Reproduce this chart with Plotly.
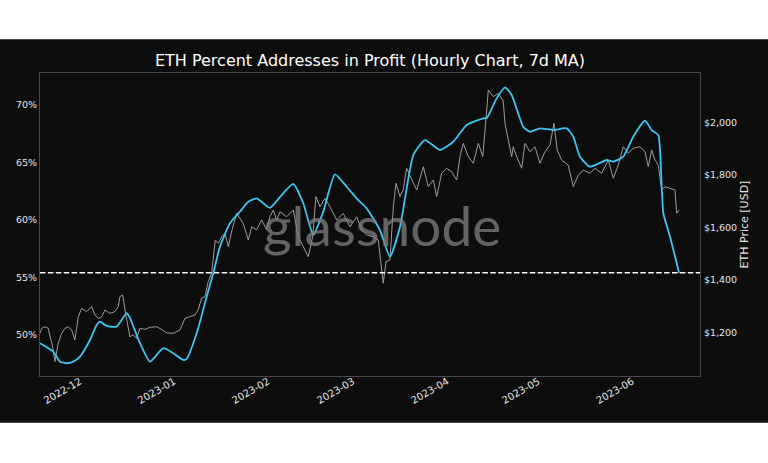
import plotly.graph_objects as go

# ---- data ----
ma_time = [
    "2022-11-17 20:00", "2022-11-22 05:00", "2022-11-24 10:00", "2022-11-26 15:00", "2022-11-28 19:00",
    "2022-12-01 00:00", "2022-12-04 07:00", "2022-12-06 12:00", "2022-12-07 14:00", "2022-12-09 19:00",
    "2022-12-13 02:00", "2022-12-16 09:00", "2022-12-17 11:00", "2022-12-20 18:00", "2022-12-24 01:00",
    "2022-12-28 11:00", "2022-12-31 18:00", "2023-01-04 01:00", "2023-01-05 04:00", "2023-01-08 11:00",
    "2023-01-11 18:00", "2023-01-13 22:00", "2023-01-16 03:00", "2023-01-19 10:00", "2023-01-22 17:00",
    "2023-01-25 11:00", "2023-01-28 05:00", "2023-01-30 10:00", "2023-02-01 14:00", "2023-02-05 23:00",
    "2023-02-09 07:00", "2023-02-12 14:00", "2023-02-15 21:00", "2023-02-19 04:00", "2023-02-23 00:00",
    "2023-02-26 21:00", "2023-03-02 04:00", "2023-03-05 11:00", "2023-03-09 20:00", "2023-03-13 03:00",
    "2023-03-16 11:00", "2023-03-20 20:00", "2023-03-24 16:00", "2023-03-29 15:00", "2023-04-03 00:00",
    "2023-04-07 10:00", "2023-04-12 21:00", "2023-04-14 00:00", "2023-04-17 07:00", "2023-04-20 01:00",
    "2023-04-22 06:00", "2023-04-26 01:00", "2023-04-28 06:00", "2023-05-01 14:00", "2023-05-05 23:00",
    "2023-05-10 09:00", "2023-05-12 13:00", "2023-05-14 18:00", "2023-05-18 01:00", "2023-05-23 13:00",
    "2023-05-25 17:00", "2023-05-29 00:00", "2023-06-01 07:00", "2023-06-05 04:00", "2023-06-07 09:00",
    "2023-06-09 13:00", "2023-06-10 16:00", "2023-06-11 05:00", "2023-06-13 10:00", "2023-06-16 09:00",
]
ma_pct = [
    49.24, 48.51, 47.64, 47.50, 47.64,
    48.08, 49.53, 50.84, 51.12, 50.75,
    50.69, 51.86, 51.45, 49.27, 47.64,
    48.81, 48.37, 47.79, 47.88, 50.11,
    53.30, 55.34, 57.66, 59.70, 60.71,
    61.58, 61.87, 61.44, 61.03, 62.31,
    63.12, 61.44, 58.68, 60.71, 63.96,
    62.88, 61.87, 61.00, 59.11, 56.79,
    59.40, 65.64, 66.95, 66.08, 66.80,
    68.26, 68.84, 68.84, 70.58, 71.54,
    70.87, 68.11, 67.67, 67.97, 67.82,
    67.97, 67.24, 65.50, 64.63, 65.21,
    65.07, 65.50, 67.24, 68.63, 67.82,
    67.39, 62.88, 60.57, 58.53, 55.39,
]

price_time = [
    "2022-11-17 20:00", "2022-11-18 09:00", "2022-11-19 11:00", "2022-11-20 13:00", "2022-11-21 08:00",
    "2022-11-22 00:00", "2022-11-22 18:00", "2022-11-23 20:00", "2022-11-24 23:00", "2022-11-26 01:00",
    "2022-11-27 04:00", "2022-11-28 06:00", "2022-11-29 08:00", "2022-11-30 11:00", "2022-12-01 13:00",
    "2022-12-03 05:00", "2022-12-04 20:00", "2022-12-05 23:00", "2022-12-07 01:00", "2022-12-08 04:00",
    "2022-12-09 06:00", "2022-12-10 21:00", "2022-12-12 13:00", "2022-12-13 15:00", "2022-12-14 04:00",
    "2022-12-15 02:00", "2022-12-15 20:00", "2022-12-16 22:00", "2022-12-17 11:00", "2022-12-18 13:00",
    "2022-12-19 16:00", "2022-12-20 18:00", "2022-12-22 10:00", "2022-12-24 01:00", "2022-12-26 06:00",
    "2022-12-27 22:00", "2022-12-29 14:00", "2022-12-31 18:00", "2023-01-02 23:00", "2023-01-04 14:00",
    "2023-01-06 06:00", "2023-01-07 21:00", "2023-01-08 23:00", "2023-01-10 02:00", "2023-01-11 05:00",
    "2023-01-12 06:00", "2023-01-13 09:00", "2023-01-14 04:00", "2023-01-14 14:00", "2023-01-15 14:00",
    "2023-01-16 17:00", "2023-01-17 19:00", "2023-01-18 21:00", "2023-01-19 23:00", "2023-01-21 15:00",
    "2023-01-22 17:00", "2023-01-23 19:00", "2023-01-25 11:00", "2023-01-26 14:00", "2023-01-28 05:00",
    "2023-01-29 21:00", "2023-01-31 12:00", "2023-02-01 14:00", "2023-02-02 17:00", "2023-02-03 19:00",
    "2023-02-04 22:00", "2023-02-07 02:00", "2023-02-09 07:00", "2023-02-10 22:00", "2023-02-12 14:00",
    "2023-02-14 05:00", "2023-02-15 16:00", "2023-02-16 18:00", "2023-02-18 02:00", "2023-02-19 17:00",
    "2023-02-21 09:00", "2023-02-23 14:00", "2023-02-25 18:00", "2023-02-27 23:00", "2023-03-02 04:00",
    "2023-03-03 20:00", "2023-03-05 11:00", "2023-03-07 15:00", "2023-03-09 07:00", "2023-03-10 10:00",
    "2023-03-10 22:00", "2023-03-11 20:00", "2023-03-13 03:00", "2023-03-14 06:00", "2023-03-15 03:00",
    "2023-03-16 11:00", "2023-03-17 12:00", "2023-03-18 15:00", "2023-03-20 07:00", "2023-03-21 23:00",
    "2023-03-24 03:00", "2023-03-25 18:00", "2023-03-27 10:00", "2023-03-28 13:00", "2023-03-30 04:00",
    "2023-03-31 20:00", "2023-04-02 11:00", "2023-04-04 03:00", "2023-04-05 05:00", "2023-04-06 07:00",
    "2023-04-07 23:00", "2023-04-09 14:00", "2023-04-11 06:00", "2023-04-12 17:00", "2023-04-13 18:00",
    "2023-04-14 13:00", "2023-04-16 04:00", "2023-04-17 20:00", "2023-04-19 11:00", "2023-04-20 01:00",
    "2023-04-21 03:00", "2023-04-22 06:00", "2023-04-22 18:00", "2023-04-23 21:00", "2023-04-25 13:00",
    "2023-04-26 15:00", "2023-04-28 06:00", "2023-04-29 22:00", "2023-05-01 14:00", "2023-05-03 05:00",
    "2023-05-04 21:00", "2023-05-06 04:00", "2023-05-07 06:00", "2023-05-08 17:00", "2023-05-10 21:00",
    "2023-05-12 13:00", "2023-05-14 05:00", "2023-05-15 20:00", "2023-05-18 01:00", "2023-05-19 17:00",
    "2023-05-21 21:00", "2023-05-24 02:00", "2023-05-25 17:00", "2023-05-27 09:00", "2023-05-29 00:00",
    "2023-05-30 16:00", "2023-06-01 07:00", "2023-06-03 12:00", "2023-06-05 04:00", "2023-06-06 06:00",
    "2023-06-07 09:00", "2023-06-08 11:00", "2023-06-09 13:00", "2023-06-10 16:00", "2023-06-11 18:00",
    "2023-06-13 10:00", "2023-06-15 01:00", "2023-06-15 15:00", "2023-06-16 09:00",
]
price_usd = [
    1196, 1215, 1221, 1215, 1177,
    1145, 1088, 1158, 1196, 1215,
    1221, 1209, 1171, 1259, 1291,
    1279, 1298, 1266, 1253, 1259,
    1285, 1272, 1279, 1298, 1336,
    1342, 1285, 1221, 1183, 1190,
    1177, 1215, 1211, 1219, 1221,
    1211, 1198, 1196, 1209, 1253,
    1259, 1266, 1285, 1330, 1336,
    1393, 1425, 1501, 1552, 1539,
    1564, 1577, 1526, 1583, 1653,
    1634, 1615, 1552, 1602, 1590,
    1628, 1590, 1640, 1666, 1628,
    1659, 1640, 1666, 1564, 1526,
    1488, 1564, 1717, 1678, 1710,
    1678, 1628, 1653, 1602, 1640,
    1590, 1571, 1564, 1552, 1450,
    1387, 1469, 1475, 1678, 1768,
    1717, 1742, 1825, 1780, 1742,
    1831, 1755, 1780, 1717, 1806,
    1825, 1812, 1780, 1869, 1920,
    1869, 1844, 1920, 1869, 2009,
    2123, 2098, 2110, 2081, 1996,
    1933, 1869, 1907, 1869, 1825,
    1920, 1888, 1907, 1844, 1888,
    1914, 1996, 1894, 1856, 1837,
    1755, 1799, 1818, 1806, 1825,
    1806, 1856, 1787, 1837, 1907,
    1882, 1901, 1907, 1888, 1831,
    1894, 1856, 1837, 1742, 1755,
    1749, 1742, 1653, 1666,
]

pct_ticks = [50, 55, 60, 65, 70]
usd_ticks = [1200, 1400, 1600, 1800, 2000]
pct_labels = [f"{v}%" for v in pct_ticks]
usd_labels = [f"${v:,}" for v in usd_ticks]
title_text = "ETH Percent Addresses in Profit (Hourly Chart, 7d MA)"
right_axis_title = "ETH Price [USD]"
watermark = "glassnode"

# ---- styling ----
BG = "#0d0d0d"
FRAME = "#4a4a4a"
TXT = "#e6e6e6"
FONT = "DejaVu Sans"

fig = go.Figure()
fig.add_trace(go.Scatter(
    x=price_time, y=price_usd, yaxis="y", mode="lines",
    line=dict(color="#9c9c9c", width=1), name="ETH Price", showlegend=False,
))
fig.add_trace(go.Scatter(
    x=ma_time, y=ma_pct, yaxis="y2", mode="lines",
    line=dict(color="#3ec4f0", width=1.8, shape="spline", smoothing=0.5),
    name="Percent Addresses in Profit", showlegend=False,
))

fig.update_layout(
    width=768, height=463,
    margin=dict(l=40, r=68, t=73, b=87),
    paper_bgcolor="white",
    plot_bgcolor=BG,
    font=dict(family=FONT, color=TXT, size=10),
    title=dict(text=title_text, x=0.5, xref="paper", xanchor="center",
               y=1 - 60 / 463, yref="container", yanchor="middle",
               font=dict(size=16, color="white", family=FONT)),
    xaxis=dict(
        type="date", range=["2022-11-17 20:00", "2023-06-23 07:00"],
        tick0="2022-12-01", dtick="M1", tickformat="%Y-%m", tickangle=-30,
        showgrid=False, zeroline=False, showline=True, mirror=True,
        linecolor=FRAME, linewidth=1, ticks="", ticklabelstandoff=-5,
        tickfont=dict(size=10, color=TXT),
    ),
    yaxis=dict(
        side="right", range=[1033.5, 2187.8], tickmode="array",
        tickvals=usd_ticks, ticktext=usd_labels, showgrid=False, zeroline=False,
        showline=True, mirror=True, linecolor=FRAME, linewidth=1, ticks="",
        ticklabelstandoff=1,
        tickfont=dict(size=9.5, color=TXT),
        title=dict(text=right_axis_title, font=dict(size=11, color=TXT), standoff=4),
    ),
    yaxis2=dict(
        side="left", overlaying="y", range=[46.39, 72.79], tickmode="array",
        tickvals=pct_ticks, ticktext=pct_labels, showgrid=False, zeroline=False,
        showline=False, ticks="", ticklabelstandoff=2,
        tickfont=dict(size=9.5, color=TXT),
    ),
    shapes=[
        # dark panel behind the chart
        dict(type="rect", xref="paper", yref="paper", x0=-0.1, x1=1.2,
             y0=(376 - 422.5) / 303, y1=(376 - 39.3) / 303,
             fillcolor=BG, line=dict(width=0), layer="below"),
        dict(type="line", xref="paper", yref="paper", x0=-0.1, x1=1.2,
             y0=(376 - 422.3) / 303, y1=(376 - 422.3) / 303,
             line=dict(color="#3a3a3a", width=1), layer="below"),
        # dashed line at the latest value
        dict(type="line", xref="paper", yref="y2", x0=0, x1=1,
             y0=ma_pct[-1], y1=ma_pct[-1],
             line=dict(color="white", width=1.5, dash="5.5px,2.4px"), layer="above"),
    ],
    annotations=[
        dict(text=watermark, xref="paper", yref="paper", x=0.518, y=0.497,
             xanchor="center", yanchor="middle", showarrow=False,
             font=dict(family="Lato", size=55, color="rgba(128,128,128,0.75)")),
    ],
)

fig.write_html("out.html")
